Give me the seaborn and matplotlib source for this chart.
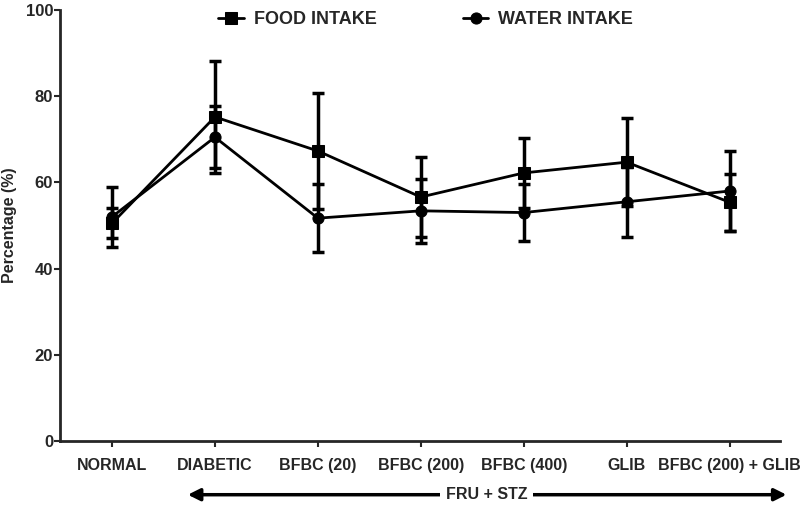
# Food and water intake (%) across treatment groups, mean +/- error

import pandas as pd
import matplotlib.pyplot as plt
import seaborn as sns

groups = ["NORMAL", "DIABETIC", "BFBC (20)", "BFBC (200)", "BFBC (400)", "GLIB", "BFBC (200) + GLIB"]
food_mean = [50.5, 75.2, 67.3, 56.6, 62.2, 64.7, 55.4]
food_err = [3.5, 13.0, 13.4, 9.3, 8.1, 10.2, 6.6]
water_mean = [52.0, 70.5, 51.7, 53.4, 53.0, 55.5, 58.0]
water_err = [7.0, 7.2, 7.9, 7.4, 6.6, 8.1, 9.3]

sns.set_style("ticks")
plt.rcParams["font.family"] = ["Liberation Sans", "DejaVu Sans"]
plt.rcParams["font.weight"] = "bold"

df = pd.DataFrame({
    "pos": list(range(len(groups))) * 2,
    "value": food_mean + water_mean,
    "series": ["FOOD INTAKE"] * len(groups) + ["WATER INTAKE"] * len(groups),
})

fig = plt.figure(figsize=(8, 5.05), dpi=100)
ax = fig.add_axes([0.075, 0.127, 0.9, 0.853])

# error bars first so the lines sit on top
x = list(range(len(groups)))
ax.errorbar(x, food_mean, yerr=food_err, fmt="none", ecolor="black",
            elinewidth=2.5, capsize=4, capthick=2.5, zorder=2)
ax.errorbar(x, water_mean, yerr=water_err, fmt="none", ecolor="black",
            elinewidth=2.5, capsize=4, capthick=2.5, zorder=2)

sns.lineplot(data=df, x="pos", y="value", style="series", color="black",
             markers={"FOOD INTAKE": "s", "WATER INTAKE": "o"}, dashes=False,
             markersize=8, linewidth=2, markeredgecolor="black", ax=ax, zorder=3)

ax.set_xlim(-0.505, 6.49)
ax.set_ylim(0, 100)
ax.set_yticks([0, 20, 40, 60, 80, 100])
ax.set_xticks(x)
ax.set_xticklabels(groups, fontsize=11.5, fontweight="bold")
ax.tick_params(axis="y", labelsize=12, width=1.5, length=4, pad=1)
ax.tick_params(axis="x", width=1.5, length=4, pad=8)
ax.set_xlabel("")
ax.set_ylabel("Percentage (%)", fontsize=11.5, fontweight="bold", labelpad=6)
for s in ["left", "bottom"]:
    ax.spines[s].set_linewidth(2)
sns.despine(ax=ax)

leg = ax.legend(loc="upper center", bbox_to_anchor=(0.508, 1.035), ncol=2, frameon=False,
                fontsize=13, columnspacing=4.8, handlelength=1.4, handletextpad=0.55)
for t in leg.get_texts():
    t.set_fontweight("bold")

# double-headed arrow under the axis for the FRU + STZ groups
ax.annotate("", xy=(0.71, -0.125), xytext=(6.58, -0.125),
            xycoords=("data", "axes fraction"), textcoords=("data", "axes fraction"),
            arrowprops=dict(arrowstyle="<|-|>", color="black", lw=2.5, mutation_scale=18),
            annotation_clip=False)
ax.text(3.64, -0.125, "FRU + STZ", transform=ax.get_xaxis_transform(), ha="center",
        va="center", fontsize=11.5, fontweight="bold",
        bbox=dict(facecolor="white", edgecolor="none", pad=4))

fig.savefig("out.png", dpi=100)
